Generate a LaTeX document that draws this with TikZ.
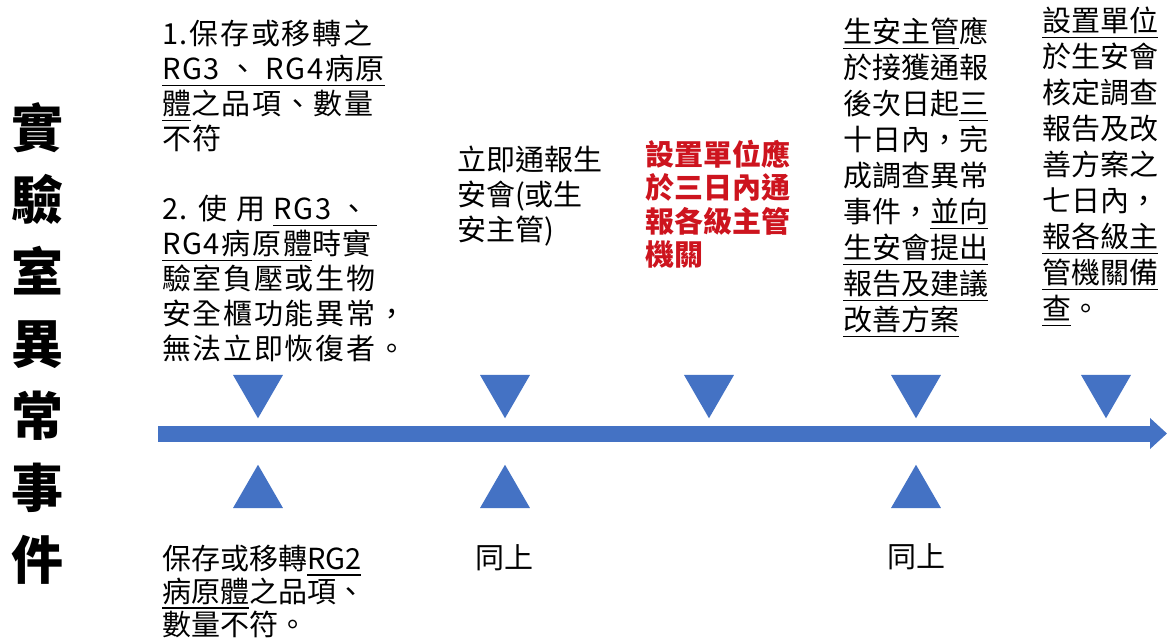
\documentclass[tikz,border=0pt]{standalone}
\usepackage{fontspec}
\setmainfont{Noto Sans CJK TC}
\newfontfamily\cjkls[LetterSpace=6]{Noto Sans CJK TC}
\usetikzlibrary{shapes.geometric,arrows.meta}
\definecolor{tlblue}{HTML}{4472C4}
\definecolor{tlred}{RGB}{205,20,30}
\newcommand{\undl}[1]{\setbox0=\hbox{#1}\rlap{\rule[-6.5pt]{\wd0}{1.5pt}}\box0}
\begin{document}
\begin{tikzpicture}[x=1pt,y=-1pt,
  txt/.style={anchor=north west,inner sep=0pt,outer sep=0pt,align=left,font=\fontsize{29}{36}\selectfont},
  tri/.style={regular polygon,regular polygon sides=3,fill=tlblue,minimum size=57.7pt,inner sep=0pt,outer sep=0pt},
  downtri/.style={tri,shape border rotate=180},
  uptri/.style={tri}]
\useasboundingbox[fill=white] (0,0) rectangle (1169,643);

% title
\node[anchor=north,inner sep=0pt,align=center,font=\fontsize{52}{72}\selectfont\bfseries] (title) at (37,102)
  {實\\驗\\室\\異\\常\\事\\件};

% timeline
\coordinate (tls) at (158,433.5);
\coordinate (tle) at (1167,433.5);
\draw[tlblue,line width=16pt,-{Triangle[length=17pt,width=30pt]}] (tls) -- (tle);

% markers
\node[downtri] (d1) at (258,389.4) {};
\node[downtri] (d2) at (505,389.4) {};
\node[downtri] (d3) at (709,389.4) {};
\node[downtri] (d4) at (916,389.4) {};
\node[downtri] (d5) at (1106,389.4) {};
\node[uptri] (u1) at (258,493.6) {};
\node[uptri] (u2) at (505,493.6) {};
\node[uptri] (u4) at (916,493.6) {};

% upper texts
\node[txt,font=\cjkls\fontsize{29}{35}\selectfont] (c1) at (162,20)
  {1.保存或移轉之\\
   \undl{RG3 、 RG4病原}\\
   \undl{體}之品項、數量\\
   不符\\[35pt]
   2. 使 用 \undl{RG3 、 }\\
   \undl{RG4病原體}時實\\
   驗室負壓或生物\\
   安全櫃功能異常，\\
   無法立即恢復者。};
\node[txt,font=\fontsize{29}{35}\selectfont] (c3) at (457,146)
  {立即通報生\\安會(或生\\安主管)};
\node[txt,text=tlred,font=\fontsize{29}{33.5}\selectfont\bfseries] (c4) at (645,140)
  {設置單位應\\於三日內通\\報各級主管\\機關};
\node[txt] (c5) at (843,18)
  {\undl{生安主管}應\\
   於接獲通報\\
   後次日起\undl{三}\\
   十日內，完\\
   成調查異常\\
   事件，\undl{並向}\\
   \undl{生安會提出}\\
   \undl{報告及建議}\\
   \undl{改善方案}};
\node[txt] (c6) at (1042,7)
  {\undl{設置單位}\\
   於生安會\\
   核定調查\\
   報告及改\\
   善方案之\\
   七日內，\\
   \undl{報各級主}\\
   \undl{管機關備}\\
   \undl{查}。};

% lower texts
\node[txt,font=\fontsize{29}{33}\selectfont] (b1) at (162,545)
  {保存或移轉\undl{RG2}\\
   \undl{病原體}之品項、\\
   數量不符。};
\node[txt] (b2) at (475,545) {同上};
\node[txt] (b4) at (887,544) {同上};
\end{tikzpicture}
\end{document}
